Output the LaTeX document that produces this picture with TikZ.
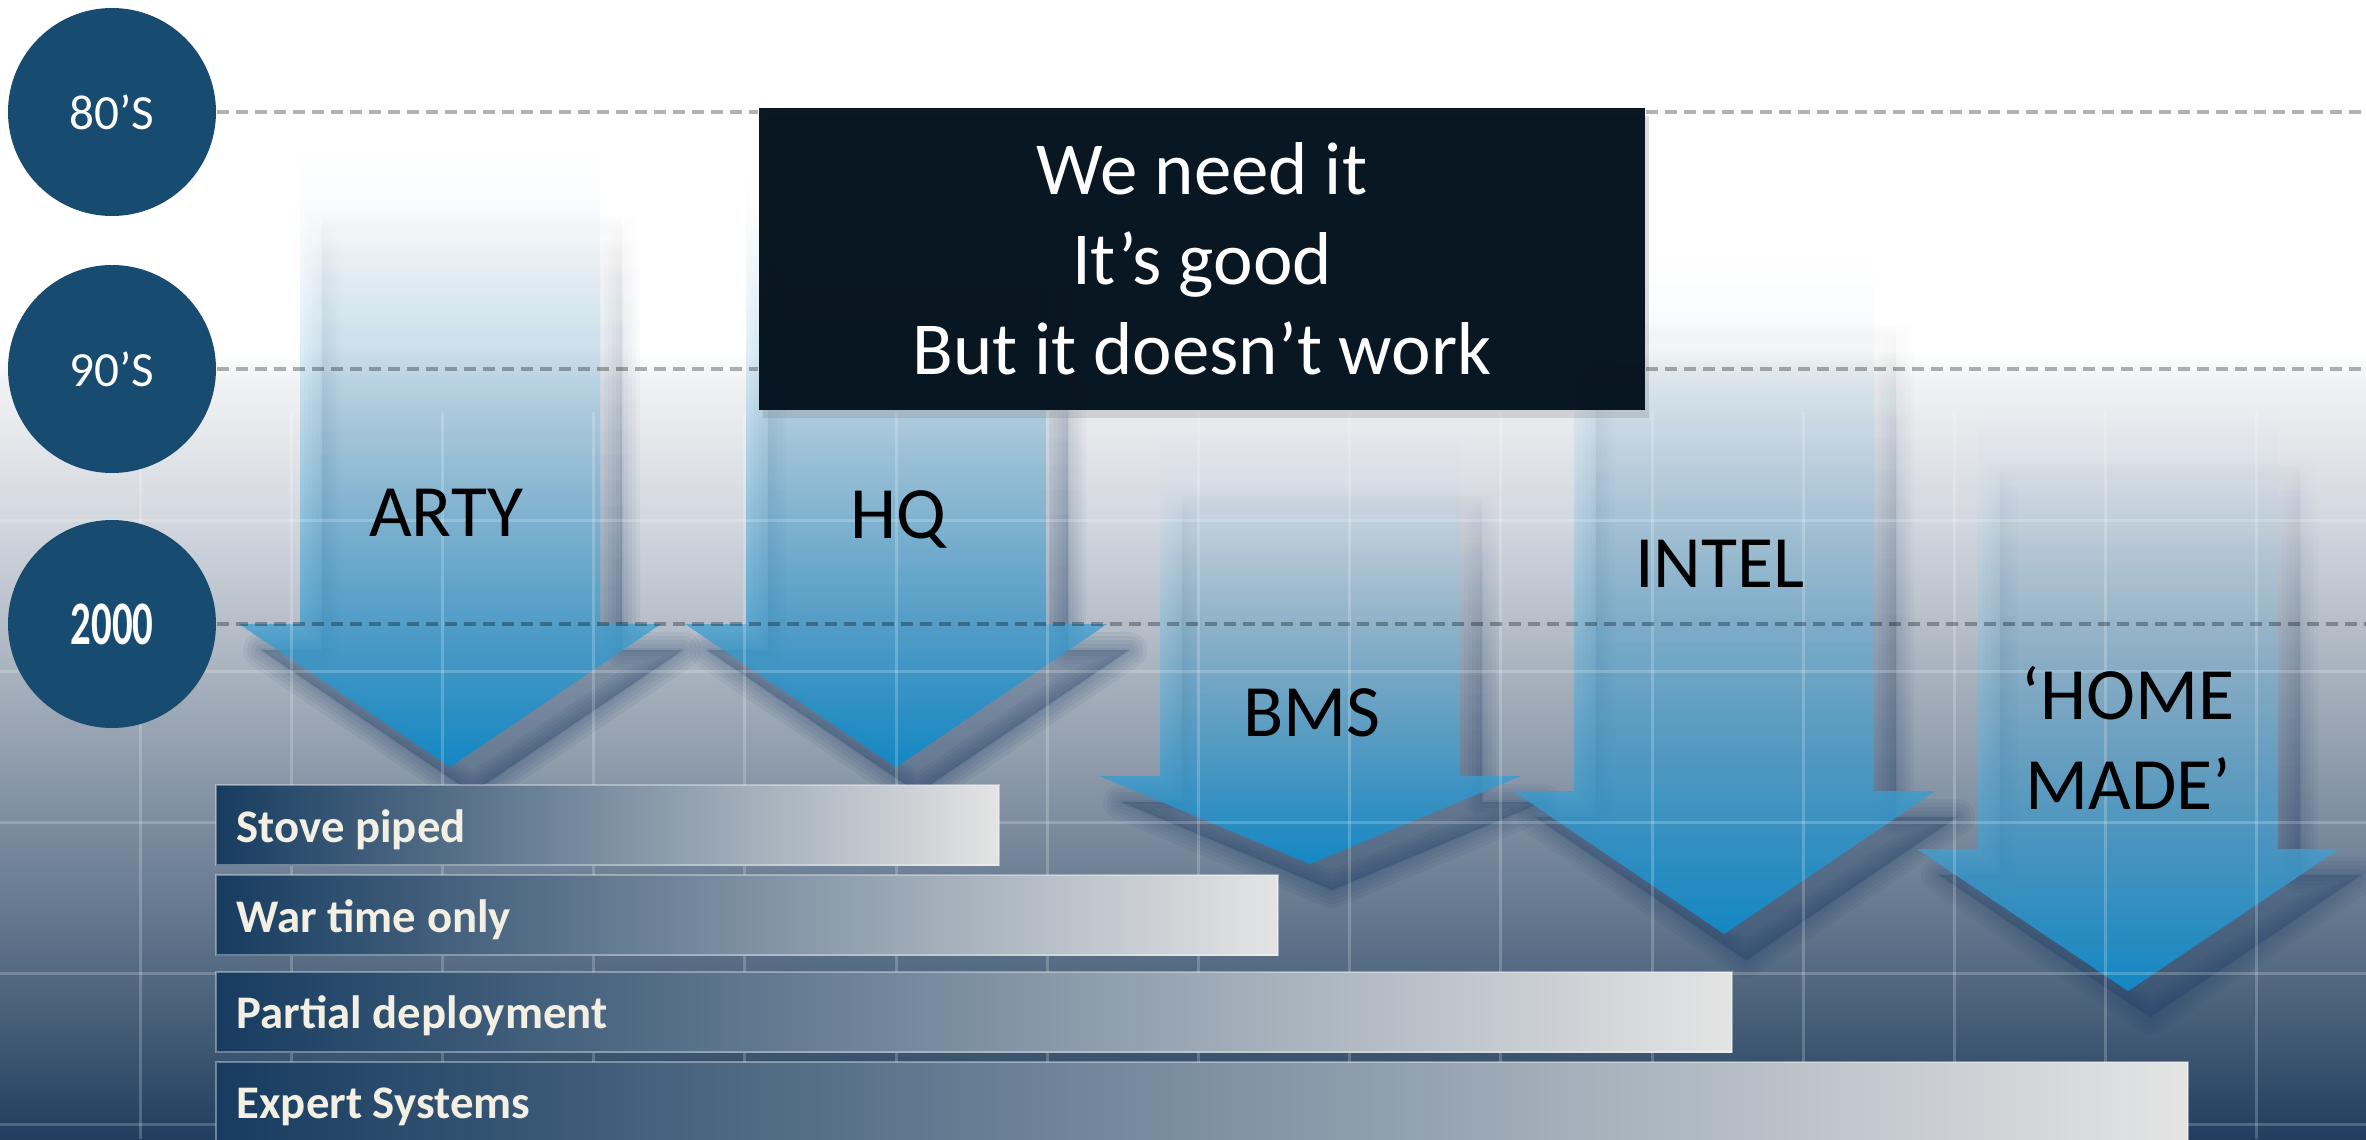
\documentclass[tikz,border=0pt]{standalone}
\usepackage{fontspec}
\setmainfont{Carlito}
\usetikzlibrary{calc, positioning, fadings, shadows}

\definecolor{decadeblue}{HTML}{174B70}
\definecolor{boxnavy}{HTML}{03111D}
\definecolor{arrowtop}{HTML}{CFE8F5}
\definecolor{arrowmid}{HTML}{7AB9DD}
\definecolor{arrowbot}{HTML}{1488C4}
\definecolor{shadowblue}{HTML}{23426A}
\definecolor{bardark}{HTML}{173C60}
\definecolor{barlight}{HTML}{E4E4E4}
\definecolor{bartext}{HTML}{F3F0E3}
\definecolor{bgA}{HTML}{F1F2F4}
\definecolor{bgB}{HTML}{D3D8DF}
\definecolor{bgC}{HTML}{A9B3BF}
\definecolor{bgD}{HTML}{7D8DA0}
\definecolor{bgE}{HTML}{546A82}
\definecolor{bgF}{HTML}{213E5E}

\pgfdeclareverticalshading{slidebg}{100bp}{color(0bp)=(bgF); color(25bp)=(bgF); color(32.3bp)=(bgE); color(38.9bp)=(bgD); color(45.6bp)=(bgC); color(52.2bp)=(bgB); color(58.3bp)=(bgA); color(59.5bp)=(white); color(100bp)=(white)}
\tikzfading[name=arrowfade, top color=transparent!100, middle color=transparent!0, bottom color=transparent!0]

\begin{document}
\begin{tikzpicture}[x=0.1mm, y=-0.1mm,
    decade/.style={circle, fill=decadeblue, minimum size=20.8mm, inner sep=0pt, text=white, font=\fontsize{14}{16}\selectfont},
    timeline/.style={line width=0.4mm, dash pattern=on 1.2mm off 0.7mm, draw opacity=0.3},
    gridline/.style={white, line width=0.3mm, draw opacity=0.2},
    msgbox/.style={fill=boxnavy, fill opacity=0.97, text opacity=1, text=white, minimum width=88.6mm, minimum height=30.2mm, align=center, inner sep=0pt, font=\fontsize{21.3}{25.6}\selectfont, drop shadow={shadow xshift=0.4mm, shadow yshift=-0.8mm, opacity=0.25}},
    lbl/.style={font=\fontsize{21}{25.6}\selectfont, align=center, inner sep=0pt},
    barfill/.style={left color=bardark, right color=barlight, draw=white, draw opacity=0.35, line width=0.2mm},
    bartxt/.style={anchor=base west, text=bartext, inner sep=0pt, font=\fontsize{13.3}{16}\selectfont\bfseries},
    arrowbody/.style={top color=arrowtop, middle color=arrowmid, bottom color=arrowbot, path fading=arrowfade},
  ]
  \useasboundingbox (0,0) rectangle (2366,1139);
  \shade[shading=slidebg] (0,0) rectangle (2366,1139);

  % block arrow: centre x, shaft top, head base, tip
  \def\dropArrow#1#2#3#4{%
    \foreach \w in {36,28,20,12,4}
      \filldraw[shift={(22,26)}, draw=shadowblue, fill=shadowblue, fill opacity=0.09, draw opacity=0.09, line width=0.1mm*\w, line join=round, path fading=arrowfade]
        ({#1-150},{#2+40}) -- ({#1+150},{#2+40}) -- ({#1+150},#3) -- ({#1+211},#3) -- (#1,#4) -- ({#1-211},#3) -- ({#1-150},#3) -- cycle;
    \shade[arrowbody] ({#1-150},#2) -- ({#1+150},#2) -- ({#1+150},#3) -- ({#1+211},#3) -- (#1,#4) -- ({#1-211},#3) -- ({#1-150},#3) -- cycle;
  }
  \dropArrow{450}{153}{624}{767}
  \dropArrow{896}{170}{624}{767}
  \dropArrow{1310}{430}{776}{864}
  \dropArrow{1724}{260}{791}{934}
  \dropArrow{2128}{400}{849}{991}

  % grid
  \foreach \gx in {0,...,14} \draw[gridline] ({140+151.2*\gx},412) -- ({140+151.2*\gx},1139);
  \foreach \gy in {0,...,4} \draw[gridline] (0,{520+151*\gy}) -- (2366,{520+151*\gy});

  \node[decade] (d80) at (112,112) {80’S};
  \node[decade] (d90) at (112,369) {90’S};
  \node[decade] (d2000) at (112,624) {\scalebox{0.66}[1]{\fontsize{17.6}{20}\selectfont\bfseries 2000}};
  \coordinate (edge) at (2366,0);

  \node[msgbox] (msg) at (1202,259) {We need it\\It’s good\\But it doesn’t work};

  \draw[timeline] (d80.east) -- (d80.east -| msg.west);
  \draw[timeline] (d80.east -| msg.east) -- (d80.east -| edge);
  \draw[timeline] (d90.east) -- (d90.east -| msg.west);
  \draw[timeline] (d90.east -| msg.east) -- (d90.east -| edge);
  \draw[timeline] (d2000.east) -- (d2000.east -| edge);

  \node[lbl, anchor=base] (arty) at (446,536) {ARTY};
  \node[lbl, anchor=base] (hq) at (898,538) {HQ};
  \node[lbl, anchor=base] (bms) at (1312,736) {BMS};
  \node[lbl, anchor=base] (intel) at (1720,587) {INTEL};
  \node[lbl] (homemade) at (2128,738) {‘HOME\\MADE’};

  \shade[barfill] (216,785) rectangle (999,865);
  \node[bartxt] (stove) at (236,842) {Stove piped};
  \shade[barfill] (216,875) rectangle (1278,955);
  \node[bartxt] (wartime) at (236,932) {War time only};
  \shade[barfill] (216,972) rectangle (1732,1052);
  \node[bartxt] (partial) at (236,1028) {Partial deployment};
  \shade[barfill] (216,1062) rectangle (2188,1160);
  \node[bartxt] (expert) at (236,1118) {Expert Systems};
\end{tikzpicture}
\end{document}
